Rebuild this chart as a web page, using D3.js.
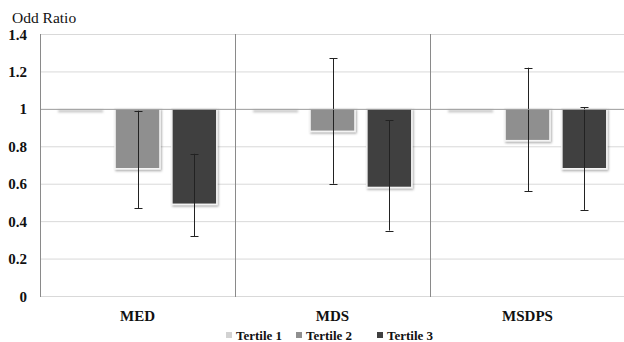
<!DOCTYPE html>
<html><head><meta charset="utf-8">
<script src="https://cdn.jsdelivr.net/npm/d3@7"></script>
</head><body style="margin:0">
<svg id="c" width="624" height="342"></svg>
<script>
const categories = ["MED", "MDS", "MSDPS"];
const series = ["Tertile 1", "Tertile 2", "Tertile 3"];
const tertile1 = [1.00, 1.00, 1.00];
const tertile2 = [0.68, 0.88, 0.83];
const tertile3 = [0.49, 0.58, 0.68];
const lower2 = [0.47, 0.60, 0.56];
const upper2 = [0.99, 1.27, 1.22];
const lower3 = [0.32, 0.35, 0.46];
const upper3 = [0.76, 0.94, 1.01];
const yTicks = [0, 0.2, 0.4, 0.6, 0.8, 1, 1.2, 1.4];
const colors = ["#d2d2d2", "#8f8f8f", "#404040"];

const fam = "Liberation Serif";
const ff = () => `"${fam}"`;
const svg = d3.select("#c");
const L = 40, R = 625, T = 34, B = 296;
const y = d3.scaleLinear().domain([0, 1.4]).range([B, T]);
const x0 = d3.scaleBand().domain(categories).range([L, R]).paddingInner(0).paddingOuter(0);
const x1 = d3.scaleBand().domain(series).range([0, x0.bandwidth()]).paddingInner(0.21).paddingOuter(0.32);

const defs = svg.append("defs");
const f = defs.append("filter").attr("id", "sh").attr("x", "-20%").attr("y", "-20%").attr("width", "140%").attr("height", "140%");
f.append("feDropShadow").attr("dx", 1).attr("dy", 1.5).attr("stdDeviation", 1.2).attr("flood-color", "#000").attr("flood-opacity", 0.35);
const fb = defs.append("filter").attr("id", "bl").attr("x", "-20%").attr("y", "-200%").attr("width", "140%").attr("height", "500%");
fb.append("feGaussianBlur").attr("stdDeviation", 0.8);

svg.append("g").selectAll("line").data(yTicks.filter(d => d !== 1)).join("line")
  .attr("x1", L).attr("x2", R).attr("y1", d => y(d) + 0.5).attr("y2", d => y(d) + 0.5)
  .attr("stroke", "#d9d9d9").attr("stroke-width", 1);

svg.append("g").selectAll("text").data(yTicks).join("text")
  .attr("x", 27).attr("y", d => y(d) + 5.5).attr("text-anchor", "end")
  .attr("font-size", 15).attr("font-weight", "bold").attr("fill", "#111").style("font-family", ff)
  .text(d => d3.format("~g")(d));

svg.append("text").attr("x", 12).attr("y", 23).attr("font-size", 15.5).attr("fill", "#111").style("font-family", ff).text("Odd Ratio");

const vals = [tertile1, tertile2, tertile3];
const lows = [null, lower2, lower3];
const ups = [null, upper2, upper3];

const gc = svg.append("g").selectAll("g").data(categories).join("g")
  .attr("transform", d => `translate(${x0(d)},0)`);

series.forEach((s, si) => {
  gc.each(function(c, ci) {
    const g = d3.select(this);
    const v = vals[si][ci];
    const top = y(1), bot = y(v);
    if (Math.abs(bot - top) < 1) {
      g.append("rect").attr("x", x1(s)).attr("y", top + 1).attr("width", x1.bandwidth()).attr("height", 2.5)
        .attr("fill", "#c4c4c4").attr("filter", "url(#bl)");
    } else {
      g.append("rect").attr("x", x1(s)).attr("y", top).attr("width", x1.bandwidth()).attr("height", bot - top)
        .attr("fill", colors[si]).attr("stroke", "#f4f4f4").attr("stroke-width", 1.5).attr("filter", "url(#sh)");
    }
  });
});

svg.append("line").attr("x1", L).attr("x2", R).attr("y1", y(1) + 0.5).attr("y2", y(1) + 0.5).attr("stroke", "#9a9a9a");
svg.append("g").selectAll("line").data(categories).join("line")
  .attr("x1", d => x0(d) + 0.5).attr("x2", d => x0(d) + 0.5).attr("y1", T).attr("y2", B + 1)
  .attr("stroke", "#8a8a8a").attr("stroke-width", 1);

[1, 2].forEach(si => {
  gc.each(function(c, ci) {
    const g = d3.select(this);
    const cx = Math.round(x1(series[si]) + x1.bandwidth() / 2) + 0.5;
    const lo = lows[si][ci], hi = ups[si][ci];
    g.append("line").attr("x1", cx).attr("x2", cx).attr("y1", y(hi)).attr("y2", y(lo)).attr("stroke", "#222").attr("stroke-width", 1);
    [lo, hi].forEach(v => g.append("line").attr("x1", cx - 4).attr("x2", cx + 4).attr("y1", Math.round(y(v)) + 0.5).attr("y2", Math.round(y(v)) + 0.5).attr("stroke", "#222").attr("stroke-width", 1));
  });
});

svg.append("g").selectAll("text").data(categories).join("text")
  .attr("x", d => x0(d) + x0.bandwidth() / 2).attr("y", 321).attr("text-anchor", "middle")
  .attr("font-size", 15).attr("font-weight", "bold").attr("fill", "#111").style("font-family", ff).text(d => d);

const lx = [226, 296, 377];
const lg = svg.append("g").selectAll("g").data(series).join("g").attr("transform", (d, i) => `translate(${lx[i]},335)`);
lg.append("rect").attr("x", 0).attr("y", -3).attr("width", 6).attr("height", 6).attr("fill", (d, i) => colors[i]);
lg.append("text").attr("x", 10).attr("y", 5).attr("font-size", 13).attr("font-weight", "bold").attr("fill", "#111").style("font-family", ff).text(d => d);
</script></body></html>
